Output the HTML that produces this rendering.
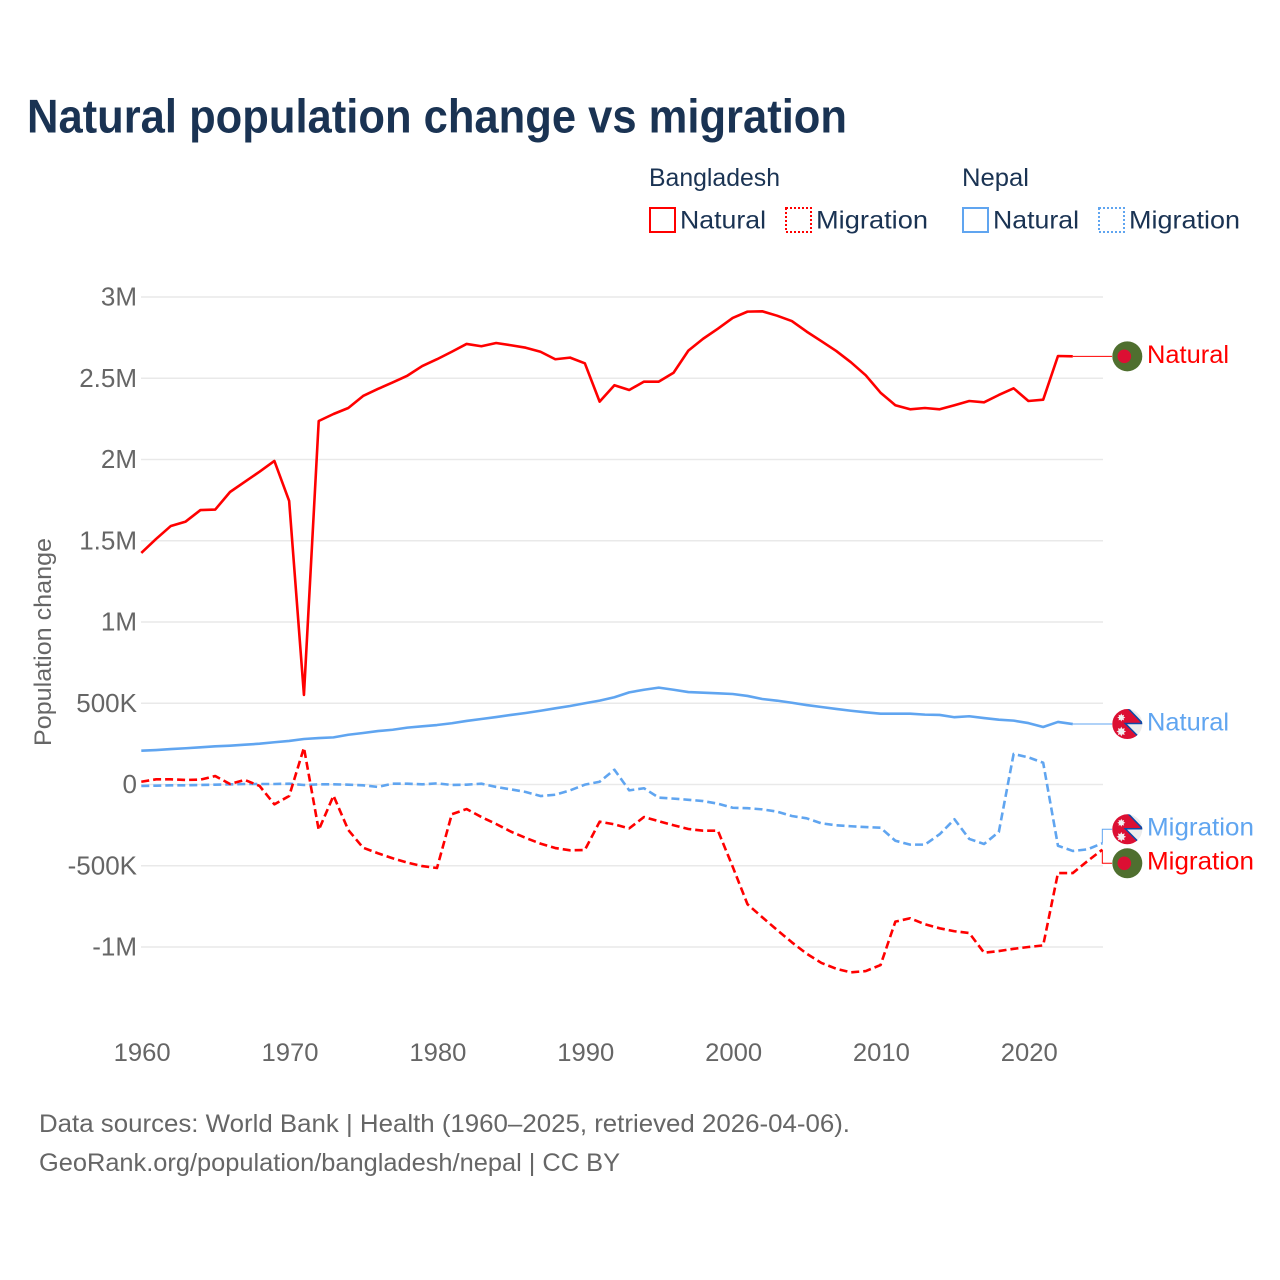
<!DOCTYPE html>
<html lang="en">
<head>
<meta charset="utf-8">
<title>Natural population change vs migration</title>
<style>
html,body{margin:0;padding:0;background:#fff;width:1280px;height:1280px;overflow:hidden}
svg{display:block}
text{font-family:"Liberation Sans",sans-serif}
</style>
</head>
<body>
<svg id="chart" xmlns="http://www.w3.org/2000/svg" width="1280" height="1280" viewBox="0 0 1280 1280">
  <rect x="0" y="0" width="1280" height="1280" fill="#ffffff"/>
  <text x="27" y="132.5" font-size="47" font-weight="700" fill="#1a3353" textLength="820" lengthAdjust="spacingAndGlyphs">Natural population change vs migration</text>

  <g font-size="25" fill="#1a3353">
    <text x="649" y="186" textLength="131" lengthAdjust="spacingAndGlyphs">Bangladesh</text>
    <text x="962" y="186" textLength="67" lengthAdjust="spacingAndGlyphs">Nepal</text>
    <g>
      <rect x="650" y="208" width="25" height="24" fill="none" stroke="#ff0000" stroke-width="2"/>
      <text x="680" y="228.5" textLength="86" lengthAdjust="spacingAndGlyphs">Natural</text>
    </g>
    <g>
      <rect x="786" y="208" width="25" height="24" fill="none" stroke="#ff0000" stroke-width="2" stroke-dasharray="2,2"/>
      <text x="816" y="228.5" textLength="112" lengthAdjust="spacingAndGlyphs">Migration</text>
    </g>
    <g>
      <rect x="963" y="208" width="25" height="24" fill="none" stroke="#60a5f0" stroke-width="2"/>
      <text x="993" y="228.5" textLength="86" lengthAdjust="spacingAndGlyphs">Natural</text>
    </g>
    <g>
      <rect x="1099" y="208" width="25" height="24" fill="none" stroke="#60a5f0" stroke-width="2" stroke-dasharray="2,2"/>
      <text x="1129" y="228.5" textLength="111" lengthAdjust="spacingAndGlyphs">Migration</text>
    </g>
  </g>

  <g id="grid"></g>
  <g id="yaxis"></g>
  <g id="xaxis"></g>
  <text transform="translate(51,642) rotate(-90)" text-anchor="middle" font-size="24.5" fill="#666666" textLength="208" lengthAdjust="spacingAndGlyphs">Population change</text>
  <g id="series"></g>
  <g id="labels"></g>

  <g font-size="25" fill="#666666">
    <text x="39" y="1132" textLength="811" lengthAdjust="spacingAndGlyphs">Data sources: World Bank | Health (1960–2025, retrieved 2026-04-06).</text>
    <text x="39" y="1171" textLength="581" lengthAdjust="spacingAndGlyphs">GeoRank.org/population/bangladesh/nepal | CC BY</text>
  </g>
</svg>
<script>
// Values in thousands of people, starting at 1960.
const startYear = 1960;
const xTickYears = [1960, 1970, 1980, 1990, 2000, 2010, 2020];
const yTickValues = [3000, 2500, 2000, 1500, 1000, 500, 0, -500, -1000];
const yTickLabels = ['3M', '2.5M', '2M', '1.5M', '1M', '500K', '0', '-500K', '-1M'];
const bangladeshNatural = [1425,1511,1591,1618,1689,1692,1800,1863,1925,1991,1745,551,2237,2280,2317,2391,2434,2474,2516,2575,2617,2663,2711,2697,2717,2703,2688,2663,2617,2627,2592,2356,2457,2428,2479,2479,2534,2670,2743,2805,2871,2910,2912,2885,2852,2787,2728,2668,2598,2518,2411,2334,2309,2317,2309,2334,2360,2352,2397,2438,2360,2368,2637,2635];
const bangladeshMigration = [17,32,32,28,30,52,3,28,-9,-122,-71,226,-280,-69,-280,-389,-423,-454,-481,-502,-514,-183,-151,-200,-243,-290,-329,-364,-391,-405,-403,-229,-245,-270,-200,-226,-251,-274,-284,-284,-506,-737,-817,-895,-971,-1041,-1098,-1134,-1156,-1148,-1111,-844,-823,-860,-885,-903,-914,-1035,-1025,-1011,-1000,-990,-545,-545,-471,-401];
const nepalNatural = [208,212,218,223,229,235,239,245,251,260,268,280,286,290,306,317,329,337,350,358,366,377,391,403,415,428,440,454,469,483,500,516,537,567,583,596,583,569,565,561,557,545,526,516,503,489,477,465,454,444,436,436,436,430,428,414,420,409,399,393,378,354,385,372];
const nepalMigration = [-9,-7,-5,-5,-3,-1,1,3,3,3,5,-3,1,1,-1,-5,-15,5,5,1,7,-3,-1,5,-15,-30,-46,-71,-63,-36,-1,17,91,-36,-23,-81,-87,-94,-102,-118,-143,-146,-153,-167,-194,-208,-239,-251,-257,-262,-266,-346,-370,-370,-306,-214,-335,-366,-292,188,167,134,-377,-409,-399,-362];

const NS = 'http://www.w3.org/2000/svg';
const RED = '#ff0000';
const BLUE = '#60a5f0';
const xScale = function (year) { return 141.3 + (year - startYear) * 14.785; };
const yScale = function (v) { return 784.5 - v * 0.1625; };
const FLAG_X = 1127.3;

function make(parent, tag, attrs, text) {
  const el = document.createElementNS(NS, tag);
  for (const k in attrs) el.setAttribute(k, attrs[k]);
  if (text !== undefined) el.textContent = text;
  parent.appendChild(el);
  return el;
}

const gridG = document.getElementById('grid');
const yAxisG = document.getElementById('yaxis');
const xAxisG = document.getElementById('xaxis');
const seriesG = document.getElementById('series');
const labelsG = document.getElementById('labels');

yTickValues.forEach(function (v, i) {
  const line = make(gridG, 'line', {x1: 141, x2: 1103, y1: yScale(v), y2: yScale(v), stroke: '#e9e9e9', 'stroke-width': 1.4});
  
  
  const label = make(yAxisG, 'text', {x: 137, y: yScale(v) + 8.5, 'text-anchor': 'end', 'font-size': 26, fill: '#666666'}, yTickLabels[i]);
  
  
});

xTickYears.forEach(function (year) {
  const label = make(xAxisG, 'text', {x: xScale(year) + 0.9, y: 1061, 'text-anchor': 'middle', 'font-size': 25, fill: '#666666', textLength: 57, lengthAdjust: 'spacingAndGlyphs'}, String(year));
  
  
});

function pathFor(values) {
  return values.map(function (v, i) {
    return (i ? 'L' : 'M') + xScale(startYear + i).toFixed(2) + ' ' + yScale(v).toFixed(2);
  }).join(' ');
}

function drawSeries(values, color, dashed) {
  const attrs = {d: pathFor(values), fill: 'none', stroke: color, 'stroke-width': 2.6, 'stroke-linejoin': 'round'};
  if (dashed) attrs['stroke-dasharray'] = '8,4';
  return make(seriesG, 'path', attrs);
}

const lineNepalMigration = drawSeries(nepalMigration, BLUE, true);


const lineBangladeshMigration = drawSeries(bangladeshMigration, RED, true);


const lineNepalNatural = drawSeries(nepalNatural, BLUE, false);


const lineBangladeshNatural = drawSeries(bangladeshNatural, RED, false);



let clipCount = 0;
function flagGroup(cy) {
  clipCount += 1;
  const defs = make(labelsG, 'defs', {});
  const clip = make(defs, 'clipPath', {id: 'flag-clip-' + clipCount});
  make(clip, 'circle', {cx: FLAG_X, cy: cy, r: 15});
  return make(labelsG, 'g', {'clip-path': 'url(#flag-clip-' + clipCount + ')'});
}

function drawBangladeshFlag(cy) {
  const g = flagGroup(cy);
  
  
  make(g, 'rect', {x: FLAG_X - 16, y: cy - 16, width: 32, height: 32, fill: '#4f6f2f'});
  make(g, 'circle', {cx: FLAG_X - 3, cy: cy, r: 6.8, fill: '#dc0f33'});
}

function starPoints(cx, cy, outer, inner, tips) {
  const out = [];
  for (let i = 0; i < tips * 2; i++) {
    const r = i % 2 ? inner : outer;
    const a = Math.PI * i / tips;
    out.push((cx + r * Math.cos(a)).toFixed(2) + ',' + (cy + r * Math.sin(a)).toFixed(2));
  }
  return out.join(' ');
}

function drawNepalFlag(cy) {
  const g = flagGroup(cy);
  
  
  const cx = FLAG_X;
  make(g, 'rect', {x: cx - 16, y: cy - 16, width: 32, height: 32, fill: '#ececec'});
  const pts = [[-16, -17], [-0.5, -17], [15.5, -0.5], [-2, -0.5], [15.5, 17], [-16, 17]];
  make(g, 'polygon', {
    points: pts.map(function (p) { return (cx + p[0]) + ',' + (cy + p[1]); }).join(' '),
    fill: '#dc0f33', stroke: '#0b4aa8', 'stroke-width': 1.5
  });
  make(g, 'polygon', {points: starPoints(cx - 6, cy - 6.5, 4, 2.4, 8), fill: '#f2f2f2'});
  make(g, 'polygon', {points: starPoints(cx - 6, cy + 7.5, 4.8, 2.9, 8), fill: '#f2f2f2'});
}

function connector(points, color) {
  return make(labelsG, 'polyline', {
    points: points.map(function (p) { return p[0] + ',' + p[1]; }).join(' '),
    fill: 'none', stroke: color, 'stroke-width': 1
  });
}

function endLabel(text, y, color, width) {
  return make(labelsG, 'text', {x: 1147, y: y, 'font-size': 25, fill: color, textLength: width, lengthAdjust: 'spacingAndGlyphs'}, text);
}

// Bangladesh natural
const bdNatEndX = xScale(startYear + bangladeshNatural.length - 1);
const bdNatEndY = yScale(bangladeshNatural[bangladeshNatural.length - 1]);
const connBdNat = connector([[bdNatEndX, bdNatEndY], [1112, bdNatEndY]], RED);


drawBangladeshFlag(bdNatEndY);
const labelBdNat = endLabel('Natural', bdNatEndY + 6.5, RED, 82);



// Nepal natural
const npNatEndX = xScale(startYear + nepalNatural.length - 1);
const npNatEndY = yScale(nepalNatural[nepalNatural.length - 1]);
const connNpNat = connector([[npNatEndX, npNatEndY], [1112, npNatEndY]], BLUE);


drawNepalFlag(npNatEndY);
const labelNpNat = endLabel('Natural', npNatEndY + 6.5, BLUE, 82);



// Migration labels are dodged apart, with elbow connectors back to the line ends
const npMigEndX = xScale(startYear + nepalMigration.length - 1);
const npMigEndY = yScale(nepalMigration[nepalMigration.length - 1]);
const connNpMig = connector([[npMigEndX, npMigEndY], [npMigEndX, 829.3], [1112, 829.3]], BLUE);


drawNepalFlag(829.3);
const labelNpMig = endLabel('Migration', 835.5, BLUE, 107);



const bdMigEndX = xScale(startYear + bangladeshMigration.length - 1);
const bdMigEndY = yScale(bangladeshMigration[bangladeshMigration.length - 1]);
const connBdMig = connector([[bdMigEndX, bdMigEndY], [bdMigEndX, 863.3], [1112, 863.3]], RED);


drawBangladeshFlag(863.3);
const labelBdMig = endLabel('Migration', 869.5, RED, 107);


</script>
</body>
</html>
